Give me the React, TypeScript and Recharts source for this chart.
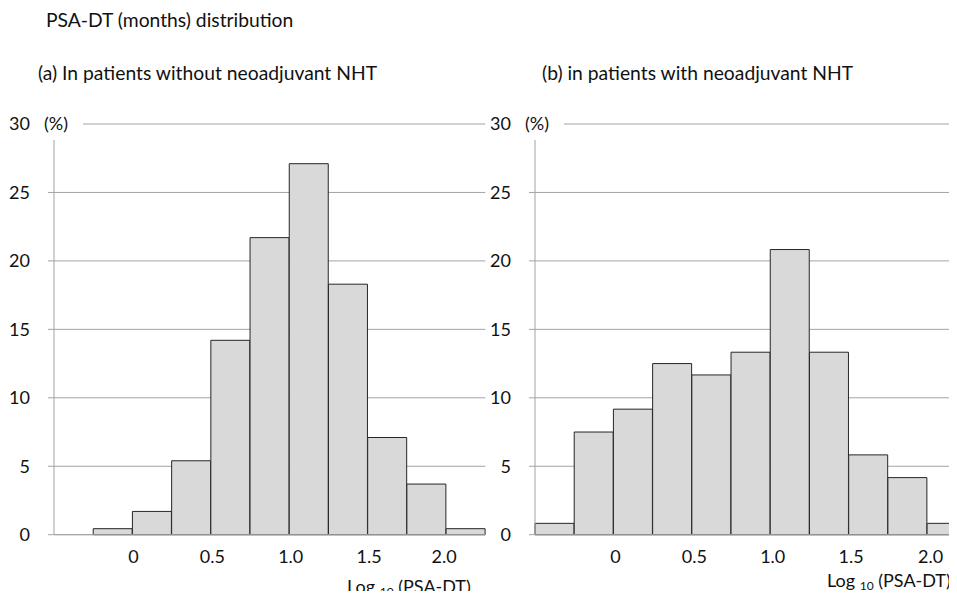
import { Bar, BarChart, CartesianGrid, XAxis, YAxis } from "recharts";

// log10(PSA-DT) bins, 0.25 wide, named by their lower edge
const BIN_STARTS = [-0.5, -0.25, 0, 0.25, 0.5, 0.75, 1.0, 1.25, 1.5, 1.75, 2.0];
// % of patients per bin
const WITHOUT_NHT = [0, 0.44, 1.7, 5.4, 14.2, 21.7, 27.1, 18.3, 7.1, 3.7, 0.44];
const WITH_NHT = [0.83, 7.5, 9.17, 12.5, 11.67, 13.33, 20.83, 13.33, 5.83, 4.17, 0.83];

const X_TICKS = [0, 0.5, 1, 1.5, 2];
const X_TICK_LABELS = ["0", "0.5", "1.0", "1.5", "2.0"];
const Y_TICKS = [0, 5, 10, 15, 20, 25, 30];

const FONT = "Lato, 'Open Sans', sans-serif";
const GRID = "#a3a3a3";
const AXIS_W = 54;

type PanelProps = { values: number[]; left: number; labelShift: number[] };

function Panel({ values, left, labelShift }: PanelProps) {
  const rows = BIN_STARTS.map((start, i) => ({ bin: start, pct: values[i] }));

  const yTick = ({ x, y, payload }: any) => {
    if (payload.value === 30) {
      // "(%)" sits on the top gridline, which is cut away behind it
      return (
        <g>
          <rect x={x + 3} y={y - 11} width={AXIS_W + 29 - (x + 3)} height={27} fill="#fff" />
          <text x={x} y={y} dy="0.355em" textAnchor="end" fontSize={18} fontFamily={FONT} fill="#111">
            30
          </text>
          <text x={AXIS_W - 10} y={y} dy="0.355em" fontSize={18} fontFamily={FONT} fill="#111">
            (%)
          </text>
        </g>
      );
    }
    return (
      <text x={x} y={y} dy="0.355em" textAnchor="end" fontSize={18} fontFamily={FONT} fill="#111">
        {payload.value}
      </text>
    );
  };

  // labels go on the lower edge of a bin, i.e. half a band left of its centre
  const xTick = ({ x, y, payload }: any) => {
    const i = X_TICKS.indexOf(Number(payload.value));
    if (i < 0) return <g />;
    return (
      <text
        x={x - (payload.offset || 0) + labelShift[i]}
        y={y}
        dy="0.71em"
        textAnchor="middle"
        fontSize={18}
        fontFamily={FONT}
        fill="#111"
      >
        {X_TICK_LABELS[i]}
      </text>
    );
  };

  return (
    <div style={{ position: "absolute", left, top: 0 }}>
      <BarChart
        width={490}
        height={599}
        data={rows}
        margin={{ top: 124, right: 4.7, bottom: 34.3, left: 0 }}
        barCategoryGap={0}
      >
        <CartesianGrid vertical={false} stroke={GRID} />
        <XAxis
          dataKey="bin"
          interval={0}
          height={30}
          tickLine={false}
          tickSize={0}
          tickMargin={16}
          axisLine={{ stroke: GRID }}
          tick={xTick}
        />
        <YAxis
          width={AXIS_W}
          domain={[0, 30]}
          ticks={Y_TICKS}
          tickSize={6}
          tickMargin={18}
          axisLine={{ stroke: GRID }}
          tickLine={{ stroke: GRID }}
          tick={yTick}
        />
        <Bar dataKey="pct" fill="#d9d9d9" stroke="#262626" strokeWidth={1} isAnimationActive={false} />
      </BarChart>
    </div>
  );
}

export default function App() {
  const text = { fontFamily: FONT, fontSize: 19.3, fill: "#111" };
  const axisText = { fontFamily: FONT, fontSize: 18, fill: "#111" };
  return (
    <div style={{ position: "relative", width: 957, height: 599, overflow: "hidden", margin: -8, background: "#fff" }}>
      <Panel values={WITHOUT_NHT} left={0} labelShift={[1, 1.5, 1.5, 1.5, -2]} />
      <Panel values={WITH_NHT} left={481} labelShift={[2, 2.5, 2.5, 2.5, 3.5]} />
      <svg width={957} height={599} style={{ position: "absolute", left: 0, top: 0, pointerEvents: "none" }}>
        <text x={46} y={27} {...text}>PSA-DT (months) distribution</text>
        <text x={38} y={80} {...text}>(a) In patients without neoadjuvant NHT</text>
        <text x={542} y={80} {...text}>(b) in patients with neoadjuvant NHT</text>
        <text x={347} y={593} {...axisText}>
          Log <tspan fontSize={12} dy={3}>10</tspan>
          <tspan dy={-3}> (PSA-DT)</tspan>
        </text>
        <text x={827} y={587} {...axisText}>
          Log <tspan fontSize={12} dy={3}>10</tspan>
          <tspan dy={-3}> (PSA-DT)</tspan>
        </text>
      </svg>
    </div>
  );
}
